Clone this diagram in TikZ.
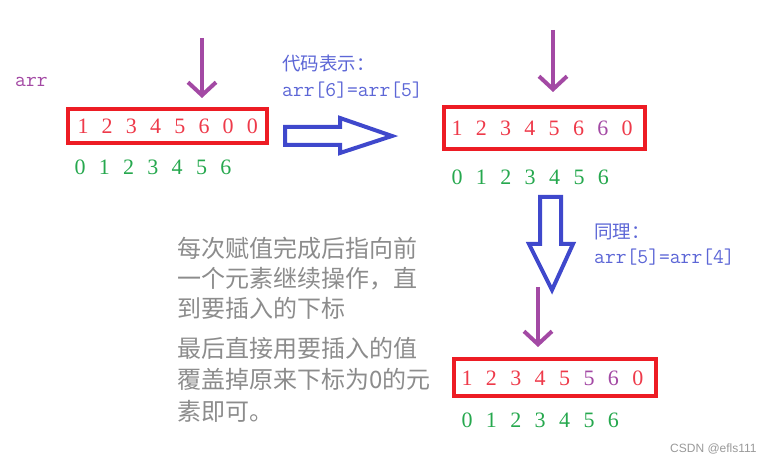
\documentclass[tikz,border=0pt]{standalone}
\usepackage{fontspec}
\newfontfamily\cjk{Noto Sans CJK SC}
\newfontfamily\wmfont{Liberation Sans}
\newfontfamily\digitfont{Liberation Serif}
\usepackage{xcolor}
\definecolor{boxred}{RGB}{237,28,36}
\definecolor{valred}{RGB}{238,58,74}
\definecolor{idxgreen}{RGB}{38,168,78}
\definecolor{ptrpurple}{RGB}{163,73,164}
\definecolor{fatblue}{RGB}{63,72,204}
\definecolor{txtblue}{RGB}{92,102,214}
\definecolor{notegray}{RGB}{140,140,140}
\usetikzlibrary{arrows.meta}

\begin{document}
\begin{tikzpicture}[x=1pt,y=1pt,
  arrbox/.style={draw=boxred,line width=4pt,inner sep=0pt},
  val/.style={inner sep=0pt,font=\fontsize{22}{26}\selectfont\digitfont},
  idx/.style={val,text=idxgreen},
  ptr/.style={ptrpurple,line width=4pt,-{Straight Barb[length=13pt,width=28pt]}},
  fat/.style={fatblue,line width=4pt,line join=miter},
  code/.style={anchor=base west,inner sep=0pt,text=txtblue,font=\fontsize{21}{24}\selectfont\ttfamily},
  steptitle/.style={anchor=base west,inner sep=0pt,text=txtblue,font=\fontsize{18.5}{22}\selectfont\cjk},
  note/.style={anchor=base west,inner sep=0pt,text=notegray,font=\fontsize{24}{30}\selectfont\cjk}]
\path[use as bounding box] (0,0) rectangle (777,461);
\node[anchor=base west,inner sep=0pt,text=ptrpurple,font=\fontsize{21}{24}\selectfont\ttfamily] (arr) at (15,374) {arr};
\node[arrbox,minimum width=199pt,minimum height=34pt] (box1) at (167.5,335) {};
\foreach \d [count=\i from 0] in {1,2,3,4,5,6,0,0}
  \node[val,text=valred] (a\i) at ({83+24.2*\i},335) {\d};
\foreach \d [count=\i from 0] in {0,...,6}
  \node[idx] (ai\i) at ({80+24.3*\i},294) {\d};
\coordinate (p1s) at (202,423); \coordinate (p1e) at (202,363);
\draw[ptr] (p1s) -- (p1e);
\draw[fat] (285,334) -- (340,334) -- (340,343) -- (392,325) -- (340,308) -- (340,316) -- (285,316) -- cycle;
\node[steptitle] (title1) at (282,390) {代码表示：};
\node[code] (code1) at (282,364) {arr[6]=arr[5]};
\node[arrbox,minimum width=201pt,minimum height=42pt] (box2) at (544.5,333) {};
\foreach \d/\c [count=\i from 0] in {1/valred,2/valred,3/valred,4/valred,5/valred,6/valred,6/ptrpurple,0/valred}
  \node[val,text=\c] (b\i) at ({457+24.3*\i},333) {\d};
\foreach \d [count=\i from 0] in {0,...,6}
  \node[idx] (bi\i) at ({457+24.4*\i},284) {\d};
\coordinate (p2s) at (553,431); \coordinate (p2e) at (553,369);
\draw[ptr] (p2s) -- (p2e);
\draw[fat] (540,264) -- (561,264) -- (561,217) -- (573,217) -- (552,171) -- (529,217) -- (540,217) -- cycle;
\node[steptitle] (title2) at (594,222) {同理：};
\node[code] (code2) at (594,197) {arr[5]=arr[4]};
\coordinate (p3s) at (538,174); \coordinate (p3e) at (538,114);
\draw[ptr] (p3s) -- (p3e);
\node[arrbox,minimum width=202pt,minimum height=37pt] (box3) at (555,83.5) {};
\foreach \d/\c [count=\i from 0] in {1/valred,2/valred,3/valred,4/valred,5/valred,5/ptrpurple,6/ptrpurple,0/valred}
  \node[val,text=\c] (c\i) at ({467+24.4*\i},83) {\d};
\foreach \d [count=\i from 0] in {0,...,6}
  \node[idx] (ci\i) at ({467+24.4*\i},41) {\d};
\foreach \t/\y [count=\i] in {每次赋值完成后指向前/203,一个元素继续操作，直/173,到要插入的下标/143,最后直接用要插入的值/103,覆盖掉原来下标为0的元/73,素即可。/41}
  \node[note] (note\i) at (177,\y) {\t};
\node[anchor=base west,inner sep=0pt,text=black!40,font=\fontsize{12}{14}\selectfont\wmfont] (mark) at (670,9) {CSDN @efls111};
\end{tikzpicture}
\end{document}
